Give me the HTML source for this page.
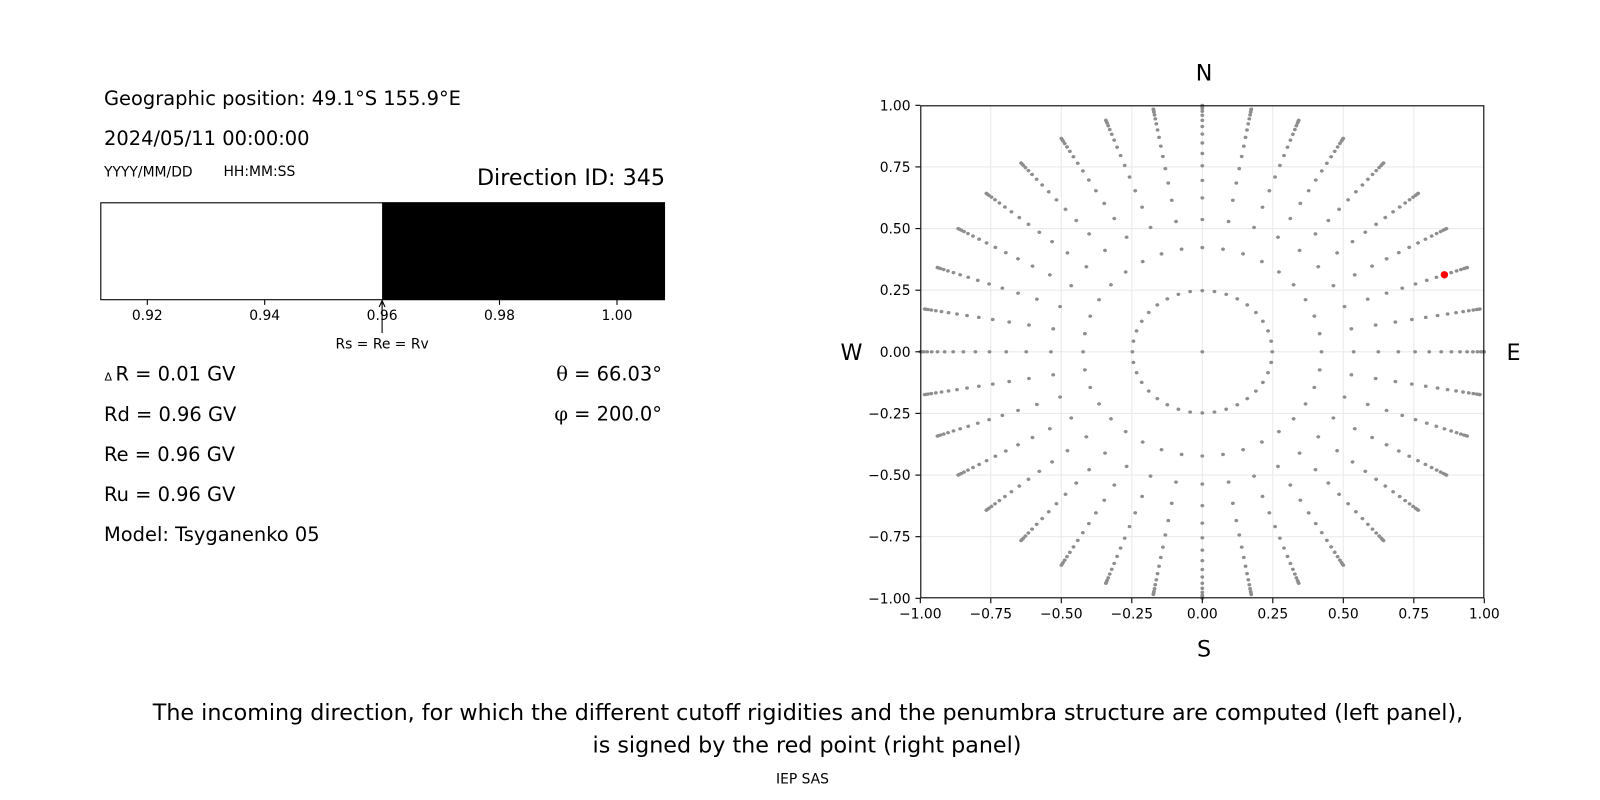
<!DOCTYPE html>
<html>
<head>
<meta charset="utf-8">
<style>
  html, body { margin: 0; padding: 0; background: #fff; }
  svg { display: block; }
  text { font-family: "DejaVu Sans", "Liberation Sans", sans-serif; fill: #000; }
</style>
</head>
<body>
<svg width="1600" height="800" viewBox="0 0 1600 800" xmlns="http://www.w3.org/2000/svg">
  <rect x="0" y="0" width="1600" height="800" fill="#fff"/>

  <!-- ============ LEFT PANEL TEXT ============ -->
  <text x="104" y="105" font-size="19.44">Geographic position: 49.1°S 155.9°E</text>
  <text x="104" y="144.8" font-size="19.44">2024/05/11 00:00:00</text>
  <text x="104" y="176.5" font-size="13.89">YYYY/MM/DD</text>
  <text x="223.5" y="176" font-size="13.89">HH:MM:SS</text>
  <text x="665" y="185" font-size="22.22" text-anchor="end">Direction ID: 345</text>

  <!-- bar -->
  <rect x="100.3" y="202.3" width="564.7" height="97.7" fill="#fff"/>
  <rect x="382.1" y="202.3" width="282.9" height="97.7" fill="#000"/>
  <rect x="100.8" y="202.8" width="563.7" height="96.9" fill="none" stroke="#000" stroke-width="1.1"/>
  <g stroke="#000" stroke-width="1.1">
    <line x1="147.3" y1="300" x2="147.3" y2="304.9"/>
    <line x1="264.7" y1="300" x2="264.7" y2="304.9"/>
    <line x1="382.1" y1="300" x2="382.1" y2="304.9"/>
    <line x1="499.5" y1="300" x2="499.5" y2="304.9"/>
    <line x1="617" y1="300" x2="617" y2="304.9"/>
  </g>
  <g font-size="13.89" text-anchor="middle">
    <text x="147.3" y="320">0.92</text>
    <text x="264.7" y="320">0.94</text>
    <text x="382.1" y="320">0.96</text>
    <text x="499.5" y="320">0.98</text>
    <text x="617" y="320">1.00</text>
  </g>
  <!-- arrow -->
  <g stroke="#000" stroke-width="1.1" fill="none">
    <line x1="382.1" y1="301" x2="382.1" y2="333"/>
    <polyline points="379.2,307 382.1,300.6 385,307"/>
  </g>
  <text x="382.1" y="348.3" font-size="13.89" text-anchor="middle">Rs = Re = Rv</text>

  <!-- values -->
  <text x="104.5" y="380.7" font-size="11">Δ</text>
  <text x="115.5" y="380.7" font-size="19.44">R = 0.01 GV</text>
  <text x="104" y="420.75" font-size="19.44">Rd = 0.96 GV</text>
  <text x="104" y="460.8" font-size="19.44">Re = 0.96 GV</text>
  <text x="104" y="500.85" font-size="19.44">Ru = 0.96 GV</text>
  <text x="104" y="540.9" font-size="19.44">Model: Tsyganenko 05</text>

  <text x="662" y="380.5" font-size="19.44" text-anchor="end"><tspan font-family="DejaVu Serif, serif">θ</tspan> = 66.03°</text>
  <text x="662" y="420.5" font-size="19.44" text-anchor="end"><tspan font-family="DejaVu Serif, serif">φ</tspan> = 200.0°</text>

  <!-- ============ RIGHT PANEL ============ -->
  <!-- grid -->
  <g stroke="#ebebeb" stroke-width="1.1">
    <line x1="990.8" y1="105.3" x2="990.8" y2="598.3"/>
    <line x1="1061.3" y1="105.3" x2="1061.3" y2="598.3"/>
    <line x1="1131.8" y1="105.3" x2="1131.8" y2="598.3"/>
    <line x1="1202.3" y1="105.3" x2="1202.3" y2="598.3"/>
    <line x1="1272.8" y1="105.3" x2="1272.8" y2="598.3"/>
    <line x1="1343.3" y1="105.3" x2="1343.3" y2="598.3"/>
    <line x1="1413.8" y1="105.3" x2="1413.8" y2="598.3"/>
    <line x1="920.3" y1="166.9" x2="1484.3" y2="166.9"/>
    <line x1="920.3" y1="228.6" x2="1484.3" y2="228.6"/>
    <line x1="920.3" y1="290.2" x2="1484.3" y2="290.2"/>
    <line x1="920.3" y1="351.8" x2="1484.3" y2="351.8"/>
    <line x1="920.3" y1="413.4" x2="1484.3" y2="413.4"/>
    <line x1="920.3" y1="475.1" x2="1484.3" y2="475.1"/>
    <line x1="920.3" y1="536.7" x2="1484.3" y2="536.7"/>
  </g>

  <defs>
    <g id="ray">
      <circle cx="0.24804" cy="0" r="0.0068"/>
      <circle cx="0.42274" cy="0" r="0.0068"/>
      <circle cx="0.53674" cy="0" r="0.0068"/>
      <circle cx="0.62422" cy="0" r="0.0068"/>
      <circle cx="0.69527" cy="0" r="0.0068"/>
      <circle cx="0.75455" cy="0" r="0.0068"/>
      <circle cx="0.80465" cy="0" r="0.0068"/>
      <circle cx="0.84721" cy="0" r="0.0068"/>
      <circle cx="0.88333" cy="0" r="0.0068"/>
      <circle cx="0.91376" cy="0" r="0.0068"/>
      <circle cx="0.93906" cy="0" r="0.0068"/>
      <circle cx="0.95963" cy="0" r="0.0068"/>
      <circle cx="0.97578" cy="0" r="0.0068"/>
      <circle cx="0.98772" cy="0" r="0.0068"/>
      <circle cx="0.99560" cy="0" r="0.0068"/>
      <circle cx="0.99951" cy="0" r="0.0068"/>
    </g>
  </defs>

  <g fill="#8e8e8e" transform="translate(1202.3 351.8) scale(282 -246.5)">
    <circle cx="0" cy="0" r="0.0068"/>
    <use href="#ray" transform="rotate(0)"/>
    <use href="#ray" transform="rotate(10)"/>
    <use href="#ray" transform="rotate(20)"/>
    <use href="#ray" transform="rotate(30)"/>
    <use href="#ray" transform="rotate(40)"/>
    <use href="#ray" transform="rotate(50)"/>
    <use href="#ray" transform="rotate(60)"/>
    <use href="#ray" transform="rotate(70)"/>
    <use href="#ray" transform="rotate(80)"/>
    <use href="#ray" transform="rotate(90)"/>
    <use href="#ray" transform="rotate(100)"/>
    <use href="#ray" transform="rotate(110)"/>
    <use href="#ray" transform="rotate(120)"/>
    <use href="#ray" transform="rotate(130)"/>
    <use href="#ray" transform="rotate(140)"/>
    <use href="#ray" transform="rotate(150)"/>
    <use href="#ray" transform="rotate(160)"/>
    <use href="#ray" transform="rotate(170)"/>
    <use href="#ray" transform="rotate(180)"/>
    <use href="#ray" transform="rotate(190)"/>
    <use href="#ray" transform="rotate(200)"/>
    <use href="#ray" transform="rotate(210)"/>
    <use href="#ray" transform="rotate(220)"/>
    <use href="#ray" transform="rotate(230)"/>
    <use href="#ray" transform="rotate(240)"/>
    <use href="#ray" transform="rotate(250)"/>
    <use href="#ray" transform="rotate(260)"/>
    <use href="#ray" transform="rotate(270)"/>
    <use href="#ray" transform="rotate(280)"/>
    <use href="#ray" transform="rotate(290)"/>
    <use href="#ray" transform="rotate(300)"/>
    <use href="#ray" transform="rotate(310)"/>
    <use href="#ray" transform="rotate(320)"/>
    <use href="#ray" transform="rotate(330)"/>
    <use href="#ray" transform="rotate(340)"/>
    <use href="#ray" transform="rotate(350)"/>
  </g>

  <!-- axes frame -->
  <rect x="920.8" y="105.8" width="563" height="492" fill="none" stroke="#000" stroke-width="1.1"/>

  <!-- red point -->
  <circle cx="1444.4" cy="274.8" r="3.7" fill="#ff0000"/>

  <!-- ticks -->
  <g stroke="#000" stroke-width="1.1">
    <line x1="920.3" y1="598.3" x2="920.3" y2="603.2"/>
    <line x1="990.8" y1="598.3" x2="990.8" y2="603.2"/>
    <line x1="1061.3" y1="598.3" x2="1061.3" y2="603.2"/>
    <line x1="1131.8" y1="598.3" x2="1131.8" y2="603.2"/>
    <line x1="1202.3" y1="598.3" x2="1202.3" y2="603.2"/>
    <line x1="1272.8" y1="598.3" x2="1272.8" y2="603.2"/>
    <line x1="1343.3" y1="598.3" x2="1343.3" y2="603.2"/>
    <line x1="1413.8" y1="598.3" x2="1413.8" y2="603.2"/>
    <line x1="1484.3" y1="598.3" x2="1484.3" y2="603.2"/>
    <line x1="915.4" y1="105.3" x2="920.3" y2="105.3"/>
    <line x1="915.4" y1="166.9" x2="920.3" y2="166.9"/>
    <line x1="915.4" y1="228.6" x2="920.3" y2="228.6"/>
    <line x1="915.4" y1="290.2" x2="920.3" y2="290.2"/>
    <line x1="915.4" y1="351.8" x2="920.3" y2="351.8"/>
    <line x1="915.4" y1="413.4" x2="920.3" y2="413.4"/>
    <line x1="915.4" y1="475.1" x2="920.3" y2="475.1"/>
    <line x1="915.4" y1="536.7" x2="920.3" y2="536.7"/>
    <line x1="915.4" y1="598.3" x2="920.3" y2="598.3"/>
  </g>
  <g font-size="13.89" text-anchor="middle">
    <text x="920.3" y="618.4">−1.00</text>
    <text x="990.8" y="618.4">−0.75</text>
    <text x="1061.3" y="618.4">−0.50</text>
    <text x="1131.8" y="618.4">−0.25</text>
    <text x="1202.3" y="618.4">0.00</text>
    <text x="1272.8" y="618.4">0.25</text>
    <text x="1343.3" y="618.4">0.50</text>
    <text x="1413.8" y="618.4">0.75</text>
    <text x="1484.3" y="618.4">1.00</text>
  </g>
  <g font-size="13.89" text-anchor="end">
    <text x="910.6" y="110.3">1.00</text>
    <text x="910.6" y="171.9">0.75</text>
    <text x="910.6" y="233.6">0.50</text>
    <text x="910.6" y="295.2">0.25</text>
    <text x="910.6" y="356.8">0.00</text>
    <text x="910.6" y="418.4">−0.25</text>
    <text x="910.6" y="480.1">−0.50</text>
    <text x="910.6" y="541.7">−0.75</text>
    <text x="910.6" y="603.3">−1.00</text>
  </g>

  <!-- compass labels -->
  <g font-size="22.22" text-anchor="middle">
    <text x="1204" y="80.7">N</text>
    <text x="1204" y="656.5">S</text>
    <text x="851.5" y="360">W</text>
    <text x="1513.5" y="360">E</text>
  </g>

  <!-- caption -->
  <g text-anchor="middle">
    <text x="808" y="720" font-size="22.22">The incoming direction, for which the different cutoff rigidities and the penumbra structure are computed (left panel),</text>
    <text x="807" y="752.5" font-size="22.22">is signed by the red point (right panel)</text>
    <text x="802.5" y="783.7" font-size="13.89">IEP SAS</text>
  </g>
</svg>
</body>
</html>
